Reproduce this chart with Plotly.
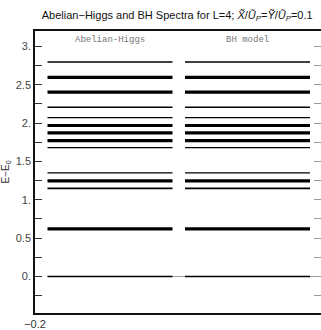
import plotly.graph_objects as go

# Energy levels E - E0 for the two models (L = 4)
ah_levels = [0.0, 0.622, 1.149, 1.248, 1.351, 1.680, 1.772, 1.873, 1.969, 2.072, 2.207, 2.404, 2.596, 2.797]
bh_levels = [0.0, 0.622, 1.149, 1.248, 1.351, 1.680, 1.772, 1.873, 1.969, 2.072, 2.207, 2.404, 2.596, 2.797]

# Horizontal extent of each model's column
ah_span = (0.0, 2.0)
bh_span = (2.2, 4.2)
model_names = ["Abelian-Higgs", "BH model"]

# Line weight per level (heavier strokes for the clustered states)
level_widths = [1.3, 3.2, 1.8, 3.2, 1.4, 1.4, 3.2, 3.2, 3.2, 1.4, 1.4, 3.2, 3.2, 1.4]

y_ticks = [-0.25, 0.0, 0.25, 0.5, 0.75, 1.0, 1.25, 1.5, 1.75, 2.0, 2.25, 2.5, 2.75, 3.0]
y_ticktext = ["", "0.", "", "0.5", "", "1.", "", "1.5", "", "2.", "", "2.5", "", "3."]

x_range = [-0.2, 4.376]
y_range = [-0.476, 3.201]

fig = go.Figure()

# faint axis line through E = 0, drawn beneath the levels
fig.add_trace(go.Scatter(
    x=[ah_span[0], x_range[1]], y=[0, 0], mode="lines",
    line=dict(color="#a0a0a0", width=1), hoverinfo="skip", showlegend=False))

for levels, span in ((ah_levels, ah_span), (bh_levels, bh_span)):
    groups = {}
    for e, w in zip(levels, level_widths):
        xs, ys = groups.setdefault(w, ([], []))
        xs += [span[0], span[1], None]
        ys += [e, e, None]
    for w, (xs, ys) in groups.items():
        fig.add_trace(go.Scatter(
            x=xs, y=ys, mode="lines", line=dict(color="black", width=w),
            hoverinfo="skip", showlegend=False))

# empty trace so the right-hand tick axis is laid out
fig.add_trace(go.Scatter(x=[None], y=[None], yaxis="y2", showlegend=False, hoverinfo="skip"))

for name, span in zip(model_names, (ah_span, bh_span)):
    fig.add_annotation(
        x=(span[0] + span[1]) / 2, y=3.086, text=name, showarrow=False,
        font=dict(family="Liberation Mono, Courier New, monospace", size=9, color="#777777"),
        xanchor="center", yanchor="middle")

fig.update_layout(
    width=321, height=330,
    margin=dict(l=35, r=0, t=31, b=13),
    paper_bgcolor="white", plot_bgcolor="white",
    font=dict(family="Liberation Sans, Arial, sans-serif", color="#333333"),
    title=dict(
        text="Abelian\u2212Higgs and BH Spectra for L=4; <i>X\u0303</i>/<i>\u0168<sub>P</sub></i>=<i>\u1EF8</i>/<i>\u0168<sub>P</sub></i>=0.1",
        x=0.552, xanchor="center", y=0.955, yanchor="middle",
        font=dict(size=11, color="#111111")),
    xaxis=dict(
        range=x_range, showgrid=False, zeroline=False,
        showline=True, mirror=True, linecolor="#111111", linewidth=1.5,
        tickvals=[x_range[0]], ticktext=["\u22120.2"], ticks="",
        tickfont=dict(size=11, color="#333333")),
    yaxis=dict(
        range=y_range, showgrid=False, zeroline=False,
        showline=True, linecolor="#111111", linewidth=1.5,
        ticks="inside", ticklen=7, tickwidth=1, tickcolor="#333333",
        tickvals=y_ticks, ticktext=y_ticktext,
        tickfont=dict(size=11, color="#444444"),
        title=dict(text="E\u2212E<sub>0</sub>", font=dict(size=10, color="#333333"), standoff=8)),
    yaxis2=dict(
        range=y_range, overlaying="y", side="right", showgrid=False,
        zeroline=False, showline=False, showticklabels=False,
        ticks="inside", ticklen=7, tickwidth=1, tickcolor="#9a9a9a",
        tick0=0, dtick=0.25),
)

fig.write_html("out.html")
